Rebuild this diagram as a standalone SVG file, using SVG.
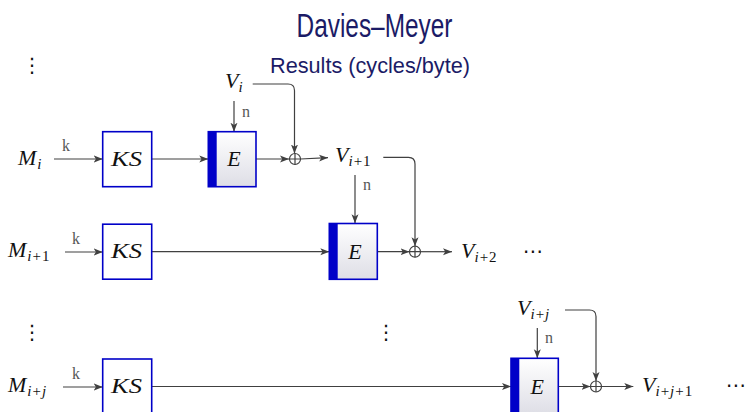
<svg xmlns="http://www.w3.org/2000/svg" width="749" height="412" viewBox="0 0 749 412">
<defs>
<linearGradient id="eg" x1="0" y1="0" x2="0" y2="1">
<stop offset="0" stop-color="#ffffff"/>
<stop offset="1" stop-color="#dedee6"/>
</linearGradient>
<marker id="ar" viewBox="0 0 10 8" refX="9" refY="4" markerWidth="10" markerHeight="8" markerUnits="userSpaceOnUse" orient="auto">
<path d="M0,0.5 L9,4 L0,7.5 L2.2,4 Z" fill="#404040"/>
</marker>
</defs>
<style>
.ttl{font-family:"Liberation Sans","DejaVu Sans",sans-serif;fill:#1b1b66}
.m{font-family:"Liberation Serif","DejaVu Serif",serif;font-style:italic;font-size:22px;fill:#111}
.sub{font-size:15px}
.up{font-style:normal}
.lb{font-family:"Liberation Serif","DejaVu Serif",serif;font-size:16px;fill:#555}
.dots{font-family:"DejaVu Sans",sans-serif;font-size:20px;fill:#111}
.ks{fill:#fff;stroke:#0000c8;stroke-width:1.6}
.eb{fill:url(#eg);stroke:#0000c8;stroke-width:1.6}
.bar{fill:#0000c8}
.c{fill:none;stroke:#404040;stroke-width:1.2}
.ca{fill:none;stroke:#404040;stroke-width:1.2;marker-end:url(#ar)}
.x{fill:#fff;stroke:#404040;stroke-width:1.2}
</style>
<text class="ttl" x="374.5" y="37" font-size="33" text-anchor="middle" textLength="156" lengthAdjust="spacingAndGlyphs">Davies–Meyer</text>
<text class="ttl" x="370" y="73" font-size="22" text-anchor="middle" textLength="200" lengthAdjust="spacingAndGlyphs">Results (cycles/byte)</text>

<g id="connectors">
<path class="ca" d="M54,159 H102.7"/>
<path class="ca" d="M151.7,159 H208.3"/>
<path class="ca" d="M234,101 V131.7"/>
<path class="ca" d="M252.7,84 H288 Q294.5,84 294.5,90.5 V153.5"/>
<path class="ca" d="M256,159 H289"/>
<path class="ca" d="M300.5,159 L328,157.7"/>
<path class="ca" d="M355,175 V223.3"/>
<path class="ca" d="M383.3,157.3 H408.5 Q415,157.3 415,164 V246.2"/>
<path class="ca" d="M65,252 H102.7"/>
<path class="ca" d="M151.7,251.7 H329.3"/>
<path class="ca" d="M377.3,251.7 H409.5"/>
<path class="ca" d="M420.5,251.7 H452"/>
<path class="ca" d="M63,387 H102.7"/>
<path class="ca" d="M151.7,386.5 H511"/>
<path class="ca" d="M537.3,328 V358.3"/>
<path class="ca" d="M565,310 H589.5 Q596,310 596,316.5 V381"/>
<path class="ca" d="M558.3,386.5 H590.5"/>
<path class="ca" d="M601.5,386.5 H633.3"/>
</g>

<g id="lbl-k1"><text class="lb" x="62" y="151">k</text></g>
<g id="lbl-k2"><text class="lb" x="72" y="244">k</text></g>
<g id="lbl-k3"><text class="lb" x="72" y="379">k</text></g>
<g id="lbl-n1"><text class="lb" x="242" y="117">n</text></g>
<g id="lbl-n2"><text class="lb" x="363" y="190">n</text></g>
<g id="lbl-n3"><text class="lb" x="545" y="343">n</text></g>

<g id="dots-top"><text class="dots" x="32" y="72" text-anchor="middle">⋮</text></g>
<g id="dots-left"><text class="dots" x="32" y="339" text-anchor="middle">⋮</text></g>
<g id="dots-mid"><text class="dots" x="386" y="339" text-anchor="middle">⋮</text></g>

<g id="Mi"><text class="m" x="18" y="164.5">M<tspan class="sub" dx="1" dy="4">i</tspan></text></g>
<g id="Mi1"><text class="m" x="8" y="257">M<tspan class="sub" dx="1" dy="4">i<tspan class="up" dx="1">+</tspan><tspan class="up" dx="1">1</tspan></tspan></text></g>
<g id="Mij"><text class="m" x="8" y="392">M<tspan class="sub" dx="1" dy="4">i<tspan class="up" dx="1">+</tspan><tspan dx="1">j</tspan></tspan></text></g>

<g id="KS1"><rect class="ks" x="102.7" y="131.7" width="49" height="55"/><text class="m" x="111" y="165.5" font-size="23" textLength="31" lengthAdjust="spacingAndGlyphs">KS</text></g>
<g id="KS2"><rect class="ks" x="102.7" y="224.2" width="49" height="55"/><text class="m" x="111" y="258" font-size="23" textLength="31" lengthAdjust="spacingAndGlyphs">KS</text></g>
<g id="KS3"><rect class="ks" x="102.7" y="359" width="49" height="55"/><text class="m" x="111" y="393" font-size="23" textLength="31" lengthAdjust="spacingAndGlyphs">KS</text></g>

<g id="E1"><rect class="eb" x="208.3" y="131.7" width="47.7" height="55"/><rect class="bar" x="208.3" y="131.7" width="8.4" height="55"/><text class="m" x="234" y="166" text-anchor="middle">E</text></g>
<g id="E2"><rect class="eb" x="329.3" y="223.5" width="48" height="55.8"/><rect class="bar" x="329.3" y="223.5" width="8.4" height="55.8"/><text class="m" x="355" y="258.5" text-anchor="middle">E</text></g>
<g id="E3"><rect class="eb" x="511" y="358.3" width="47.3" height="56"/><rect class="bar" x="511" y="358.3" width="8.3" height="56"/><text class="m" x="537.3" y="393.5" text-anchor="middle">E</text></g>

<g id="X1"><circle class="x" cx="295" cy="159" r="5.5"/><path class="c" d="M289.5,159 H300.5 M295,153.5 V164.5"/></g>
<g id="X2"><circle class="x" cx="415" cy="251.7" r="5.5"/><path class="c" d="M409.5,251.7 H420.5 M415,246.2 V257.2"/></g>
<g id="X3"><circle class="x" cx="596" cy="386.5" r="5.5"/><path class="c" d="M590.5,386.5 H601.5 M596,381 V392"/></g>

<g id="Vi"><text class="m" x="225" y="88">V<tspan class="sub" dy="4">i</tspan></text></g>
<g id="Vi1"><text class="m" x="335" y="162">V<tspan class="sub" dy="4">i<tspan class="up" dx="1">+</tspan><tspan class="up" dx="1">1</tspan></tspan></text></g>
<g id="Vi2"><text class="m" x="461" y="258">V<tspan class="sub" dy="4">i<tspan class="up" dx="1">+</tspan><tspan class="up" dx="1">2</tspan></tspan></text><text class="dots" x="523" y="258">⋯</text></g>
<g id="Vij"><text class="m" x="517" y="315">V<tspan class="sub" dy="4">i<tspan class="up" dx="1">+</tspan><tspan dx="1">j</tspan></tspan></text></g>
<g id="Vij1"><text class="m" x="642" y="392">V<tspan class="sub" dy="4">i<tspan class="up" dx="1">+</tspan><tspan dx="1">j</tspan><tspan class="up" dx="1">+</tspan><tspan class="up" dx="1">1</tspan></tspan></text><text class="dots" x="726" y="392">⋯</text></g>
</svg>
